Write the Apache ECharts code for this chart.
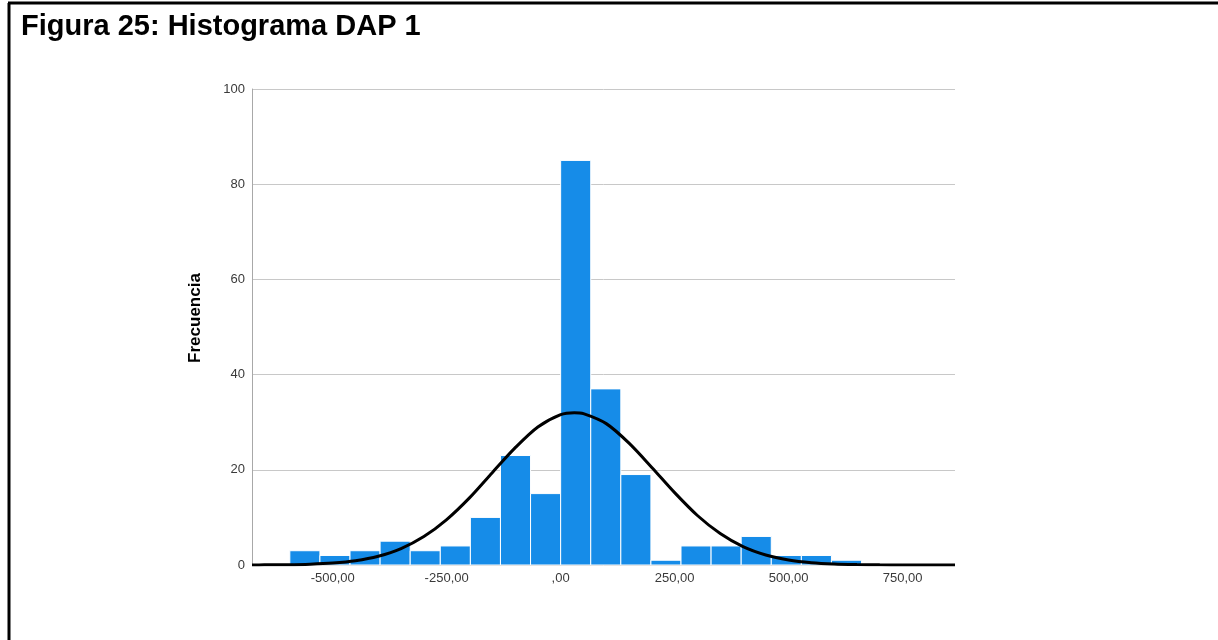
<!DOCTYPE html>
<html>
<head>
<meta charset="utf-8">
<title>Figura 25: Histograma DAP 1</title>
<script src="https://cdn.jsdelivr.net/npm/echarts@6/dist/echarts.min.js"></script>
<style>
  html, body { margin: 0; padding: 0; background: #ffffff; }
  #chart { width: 1218px; height: 640px; }
</style>
</head>
<body>
<div id="chart"></div>
<script>
// Histogram bins: lower edge of each bin and its frequency
const binWidth = 66;
const binStarts = [-594, -528, -462, -396, -330, -264, -198, -132, -66,
                   0, 66, 132, 198, 264, 330, 396, 462, 528, 594];
const frequencies = [3, 2, 3, 5, 3, 4, 10, 23, 15,
                     85, 37, 19, 1, 4, 4, 6, 2, 2, 1];

// Normal curve drawn over the histogram (x, frequency)
const curveX = [-677, -650, -600, -550, -500, -450, -400, -350, -300, -250, -200, -150, -100, -50,
                0, 30, 50, 100, 150, 200, 250, 300, 350, 400, 450, 500, 550, 600, 650, 700, 750, 800, 865];
const curveY = [0.01, 0.03, 0.07, 0.18, 0.42, 0.91, 1.85, 3.45, 5.97, 9.54, 14.1, 19.4, 24.6, 29.0,
                31.6, 32.0, 31.8, 29.7, 25.6, 20.5, 15.2, 10.4, 6.6, 3.86, 2.1, 1.06, 0.49, 0.21, 0.09, 0.03, 0.01, 0, 0];

// Axis tick values and their labels (Spanish decimal format)
const xTickValues = [-500, -250, 0, 250, 500, 750];
const xTickLabels = ['-500,00', '-250,00', ',00', '250,00', '500,00', '750,00'];

const barData = binStarts.map((s, i) => [s, s + binWidth, frequencies[i]]);
const curveData = curveX.map((x, i) => [x, curveY[i]]);

const chart = echarts.init(document.getElementById('chart'), null, { renderer: 'canvas' });

chart.setOption({
  backgroundColor: '#ffffff',
  animation: false,
  textStyle: { fontFamily: 'Arial, "Liberation Sans", sans-serif' },
  title: {
    text: 'Figura 25: Histograma DAP 1',
    left: 16,
    top: 7,
    textStyle: {
      fontFamily: 'Arial, "Liberation Sans", sans-serif',
      fontSize: 29,
      fontWeight: 'bold',
      color: '#000000'
    }
  },
  graphic: [
    // frame around the figure
    { type: 'line', shape: { x1: 9, y1: 3, x2: 9, y2: 640 }, style: { stroke: '#000', lineWidth: 3 } },
    { type: 'line', shape: { x1: 8, y1: 3, x2: 1218, y2: 3 }, style: { stroke: '#000', lineWidth: 3 } }
  ],
  grid: { left: 252, top: 89, width: 703, height: 476 },
  xAxis: {
    type: 'value',
    min: -677,
    max: 865,
    axisLine: { show: false },
    axisTick: { show: false },
    splitLine: { show: false },
    axisLabel: {
      customValues: xTickValues,
      formatter: v => xTickLabels[xTickValues.indexOf(v)],
      fontSize: 13,
      color: '#3a3a3a',
      margin: 7
    }
  },
  yAxis: {
    type: 'value',
    min: 0,
    max: 100,
    interval: 20,
    name: 'Frecuencia',
    nameLocation: 'middle',
    nameGap: 48,
    nameTextStyle: { fontSize: 17, fontWeight: 'bold', color: '#000000', padding: [0, 0, 0, 18] },
    axisLine: { show: true, onZero: false, lineStyle: { color: '#a8a8a8', width: 1 } },
    axisTick: { show: false },
    axisLabel: { fontSize: 13, color: '#3a3a3a', margin: 7 },
    splitLine: { show: true, lineStyle: { color: '#c8c8c8', width: 1 } }
  },
  series: [
    {
      type: 'custom',
      name: 'Frecuencia',
      data: barData,
      encode: { x: [0, 1], y: 2 },
      z: 2,
      renderItem: function (params, api) {
        const p0 = api.coord([api.value(0), api.value(2)]);
        const p1 = api.coord([api.value(1), 0]);
        return {
          type: 'rect',
          shape: { x: p0[0], y: p0[1], width: p1[0] - p0[0], height: p1[1] - p0[1] },
          style: { fill: '#168ce8', stroke: '#ffffff', lineWidth: 1 }
        };
      }
    },
    {
      type: 'line',
      data: curveData,
      smooth: 0.3,
      showSymbol: false,
      z: 5,
      lineStyle: { color: '#000000', width: 3 }
    }
  ]
});
</script>
</body>
</html>
